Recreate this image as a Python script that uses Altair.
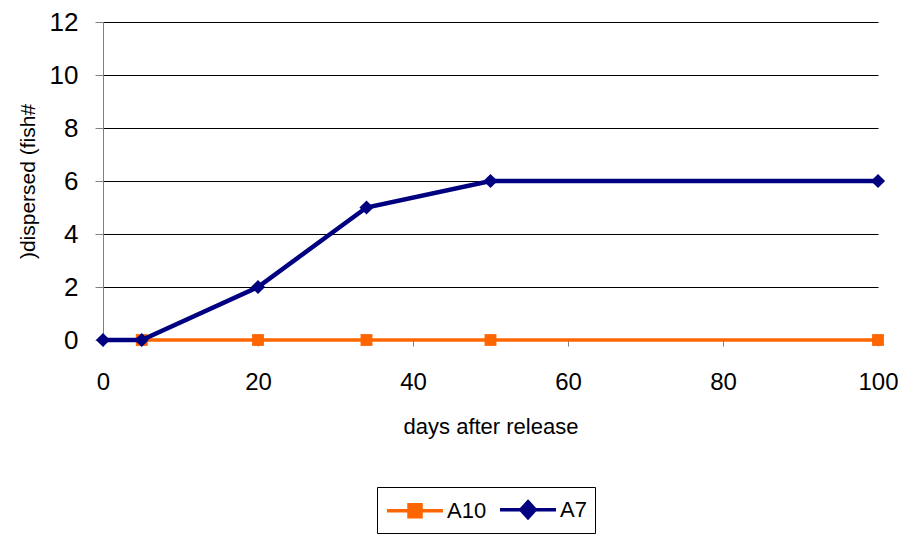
import altair as alt
import pandas as pd

days_a10 = [5, 20, 34, 50, 100]
fish_a10 = [0, 0, 0, 0, 0]
days_a7 = [0, 5, 20, 34, 50, 100]
fish_a7 = [0, 0, 2, 5, 6, 6]
series = ["A10", "A7"]
colors = ["#FF6600", "#000080"]

df10 = pd.DataFrame({"days": days_a10, "fish": fish_a10, "series": "A10"})
df7 = pd.DataFrame({"days": days_a7, "fish": fish_a7, "series": "A7"})
dfall = pd.concat([df10, df7], ignore_index=True)

FONT = "Liberation Sans"
# legend symbols: line segment with the series marker in its middle (unit = sqrt(size)/2)
sq = "M-1,0L3.48,0M0.76,-0.48L1.72,-0.48L1.72,0.48L0.76,0.48Z"
dm = "M-1,0L3.48,0M1.24,-0.64L1.82,0L1.24,0.64L0.66,0Z"

x = alt.X("days:Q", scale=alt.Scale(domain=[0, 100], nice=False),
          axis=alt.Axis(values=[0, 20, 40, 60, 80, 100], title="days after release",
                        grid=False, tickSize=6, labelPadding=24, titlePadding=22,
                        labelFlush=False, labelFont=FONT, labelFontSize=24, labelColor="#000000",
                        titleFont=FONT, titleFontSize=22, titleFontWeight="normal", titleColor="#000000",
                        domainColor="#808080", tickColor="#808080"))
y = alt.Y("fish:Q", scale=alt.Scale(domain=[0, 12], nice=False),
          axis=alt.Axis(values=[0, 2, 4, 6, 8, 10, 12], title=")dispersed (fish#",
                        grid=True, gridColor="#000000", gridWidth=1, tickSize=8,
                        labelPadding=17, titlePadding=11, labelFlush=False,
                        labelFont=FONT, labelFontSize=26, labelColor="#000000",
                        titleFont=FONT, titleFontSize=21, titleFontWeight="normal", titleColor="#000000",
                        domainColor="#808080", tickColor="#808080"))

leg = alt.Legend(title=None, orient="none", legendX=274, legendY=465,
                 direction="horizontal", strokeColor="#000000",
                 padding=8, symbolSize=625, symbolStrokeWidth=3.5, symbolOpacity=1,
                 labelFontSize=22, labelFont=FONT, labelColor="#000000",
                 labelOffset=33, columnPadding=6)

l10 = alt.Chart(df10).mark_line(strokeWidth=3.5, color=colors[0]).encode(x=x, y=y)
p10 = alt.Chart(df10).mark_point(shape="square", filled=True, size=140, opacity=1, color=colors[0]).encode(x=x, y=y)
l7 = alt.Chart(df7).mark_line(strokeWidth=4.5, color=colors[1]).encode(x=x, y=y)
p7 = alt.Chart(df7).mark_point(shape="diamond", filled=True, size=200, opacity=1, color=colors[1]).encode(x=x, y=y)
legend_layer = alt.Chart(dfall).mark_point(size=0, filled=True).encode(
    x=x, y=y,
    fill=alt.Fill("series:N", scale=alt.Scale(domain=series, range=colors), legend=leg),
    stroke=alt.Stroke("series:N", scale=alt.Scale(domain=series, range=colors), legend=leg),
    shape=alt.Shape("series:N", scale=alt.Scale(domain=series, range=[sq, dm]), legend=leg),
)

chart = alt.layer(l10, p10, l7, p7, legend_layer).properties(
    width=775, height=318,
    autosize=alt.AutoSizeParams(type="none"),
    padding={"left": 95, "top": 14, "right": 20, "bottom": 194},
).configure_view(stroke=None)

chart.save("out.html", embed_options={"renderer": "svg", "actions": False})
